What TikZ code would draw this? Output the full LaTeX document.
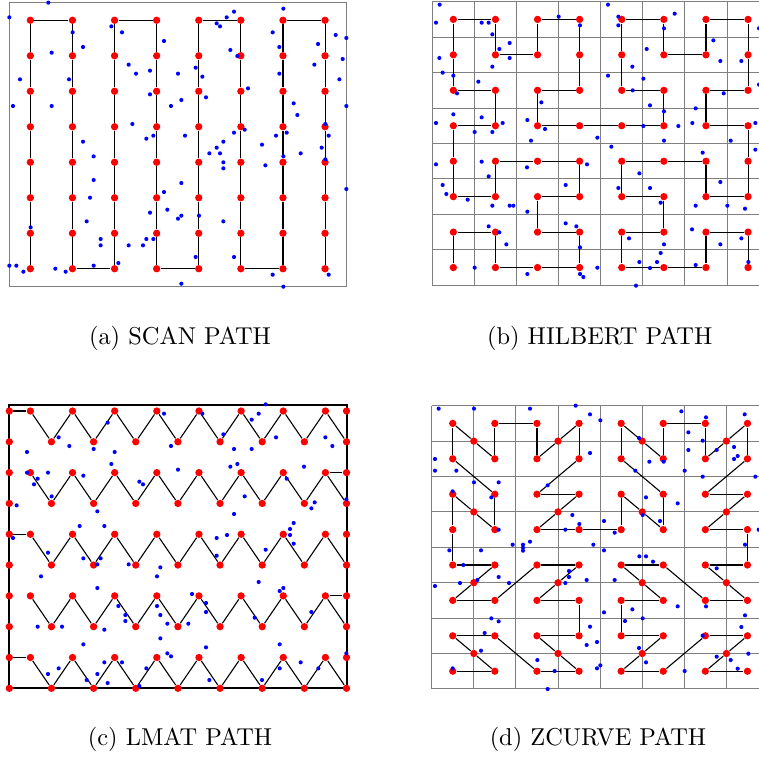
\documentclass[tikz,border=0pt]{standalone}
\usepackage{tikz}
\usetikzlibrary{positioning}

\begin{document}
\begin{tikzpicture}[
  x=0.41pt, y=-0.41pt,
  site/.style={circle, fill=red, inner sep=0pt, minimum size=3pt},
  link/.style={line width=0.45pt, black},
  cell/.style={line width=0.4pt, black!50},
  frame/.style={line width=0.8pt, black},
  sample/.style={fill=blue},
  zoomed/.style={x=0.136667pt, y=-0.136667pt},
  caption/.style={anchor=base},
]
\useasboundingbox (0,0) rectangle (759,760);

% frames and grids
\draw[cell] (9.3,2.7) rectangle (346.7,286);
\foreach \k in {0,...,8} {
  \draw[cell] ({432.3+42.1*\k},1.7) -- ({432.3+42.1*\k},285.3);
  \draw[cell] (432.3,{1.7+35.45*\k}) -- (769,{1.7+35.45*\k});
  \draw[cell] ({431.7+42.1*\k},405.7) -- ({431.7+42.1*\k},688.9);
  \draw[cell] (431.7,{405.7+35.4*\k}) -- (769,{405.7+35.4*\k});
}
\draw[frame] (9.3,405) rectangle (346.7,688.3);

% sites
\foreach \c in {0,...,7}
  \foreach \r in {0,...,7} {
    \node[site] (s-\c-\r) at ({30.35+42.1*\c},{20.25+35.5*\r}) {};
    \node[site] (h-\c-\r) at ({453.35+42.1*\c},{19.4+35.45*\r}) {};
    \node[site] (z-\c-\r) at ({452.75+42.1*\c},{423.4+35.4*\r}) {};
  }
\foreach \i in {0,...,3}
  \foreach \j in {0,...,3}
    \node[site] (zm-\i-\j) at ({473.8+84.2*\i},{441.1+70.8*\j}) {};
\foreach \r in {0,...,9}
  \foreach \k in {0,...,16} {
    \pgfmathtruncatemacro\keep{(mod(\k+\r,2)==1) || (\k==0) || (\k==16)}
    \ifnum\keep=1
      \node[site] (l-\k-\r) at ({9.3+21.075*\k},{411+30.81*\r}) {};
    \fi
  }

% scan path
\foreach \c in {0,...,7}
  \foreach \r [remember=\r as \rr (initially 0)] in {1,...,7}
    \draw[link] (s-\c-\rr) -- (s-\c-\r);
\foreach \a/\b in {0/1,2/3,4/5,6/7} \draw[link] (s-\a-0) -- (s-\b-0);
\foreach \a/\b in {1/2,3/4,5/6} \draw[link] (s-\a-7) -- (s-\b-7);

% hilbert path
\foreach \p [remember=\p as \pp (initially 0-7)] in {0-6,1-6,1-7,2-7,3-7,3-6,2-6,
  2-5,3-5,3-4,2-4,1-4,1-5,0-5,0-4,0-3,1-3,1-2,0-2,0-1,0-0,1-0,1-1,
  2-1,2-0,3-0,3-1,3-2,2-2,2-3,3-3,4-3,5-3,5-2,4-2,4-1,4-0,5-0,5-1,
  6-1,6-0,7-0,7-1,7-2,6-2,6-3,7-3,7-4,7-5,6-5,6-4,5-4,4-4,4-5,5-5,
  5-6,4-6,4-7,5-7,6-7,6-6,7-6,7-7}
  \draw[link] (h-\pp) -- (h-\p);

% lmat path
\foreach \p in {0,2,4,6,8}
  \foreach \k in {1,...,15} {
    \pgfmathtruncatemacro\ra{\p+mod(\k+1,2)}
    \pgfmathtruncatemacro\kb{\k+1}
    \pgfmathtruncatemacro\rb{\p+mod(\k,2)}
    \draw[link] (l-\k-\ra) -- (l-\kb-\rb);
  }
\foreach \p in {0,4,8} \draw[link] (l-0-\p) -- (l-1-\p);
\foreach \p in {2,6} \draw[link] (l-16-\p) -- (l-15-\p);
\foreach \a/\b in {1/2,5/6} \draw[link] (l-16-\a) -- (l-16-\b);
\foreach \a/\b in {3/4,7/8} \draw[link] (l-0-\a) -- (l-0-\b);

% zcurve path
\foreach \p [remember=\p as \pp (initially z-0-7)] in {z-1-7,zm-0-3,z-0-6,z-1-6,z-2-7,z-3-7,zm-1-3,z-2-6,z-3-6,
  z-3-5,z-2-5,zm-1-2,z-3-4,z-2-4,z-1-5,z-0-5,zm-0-2,z-1-4,z-0-4,
  z-0-3,z-0-2,zm-0-1,z-1-3,z-1-2,z-0-1,z-0-0,zm-0-0,z-1-1,z-1-0,
  z-2-0,z-2-1,zm-1-0,z-3-0,z-3-1,z-2-2,z-3-2,zm-1-1,z-2-3,z-3-3,
  z-4-3,z-4-2,zm-2-1,z-5-3,z-5-2,z-4-1,z-4-0,zm-2-0,z-5-1,z-5-0,
  z-6-0,z-6-1,zm-3-0,z-7-0,z-7-1,z-6-2,z-7-2,zm-3-1,z-6-3,z-7-3,
  z-7-4,z-6-4,zm-3-2,z-7-5,z-6-5,z-5-4,z-4-4,zm-2-2,z-5-5,z-4-5,
  z-4-6,z-5-6,zm-2-3,z-4-7,z-5-7,z-6-6,z-7-6,zm-3-3,z-6-7,z-7-7}
  \draw[link] (\pp) -- (\p);

% samples
\begin{scope}[zoomed]
\foreach \u/\v in {145/8,28/52,218/97,334/79,366/97,680/52,702/35,650/70,660/79,850/26,
  818/97,1007/105,1039/114,954/132,838/141,1028/177,943/194,1018/238,838/221,249/141,
  155/158,492/123,691/150,712/168,386/194,408/221,450/212,534/221,587/203,607/230,
  60/238,207/238,744/265,450/283,544/300,618/292,513/318,39/318,155/318,881/310,
  892/345,1039/318,397/372,439/416,460/407,555/407,702/398,734/389,828/407,860/398,
  976/372,986/407,249/425,670/425,650/443,628/460,660/460,786/434,902/460,965/443,
  850/469,976/478,281/469,670/487,670/505,796/496,544/549,281/540,492/576,270/593,
  1039/567,502/629,450/638,534/656,544/647,597/647,260/664,670/664,92/682,302/717,
  302/736,386/736,429/736,439/717,460/717,355/789,281/797,587/771,702/771,28/797,
  49/797,70/815,166/806,197/815,544/851,818/824,986/824,850/860}
  \fill[sample] (\u,\v) circle[radius=0.85pt];
\end{scope}
\begin{scope}[shift={(420,0)}, zoomed]
\foreach \u/\v in {59/14,48/68,185/68,206/68,217/103,416/50,480/76,564/14,595/50,595/76,
  764/41,732/85,1017/85,269/129,238/147,269/174,58/174,217/200,68/218,100/227,
  175/245,111/280,680/147,637/200,564/227,670/236,638/271,880/121,901/183,964/183,
  1017/254,911/280,364/307,690/316,827/325,732/334,100/343,185/352,48/369,248/369,
  217/396,164/396,322/360,375/387,333/422,532/413,574/440,670/378,775/378,817/369,
  1006/369,932/422,732/422,848/458,1006/449,48/493,185/485,206/529,321/502,501/493,
  658/520,68/555,79/582,143/599,217/617,269/617,280/617,322/635,437/555,595/564,
  690/564,722/608,901/546,827/617,922/617,975/626,206/679,238/697,259/733,437/670,
  469/679,480/742,627/715,732/733,722/759,711/786,658/786,690/804,816/688,901/733,
  964/715,985/786,827/795,164/803,322/822,480/822,490/831,532/803,648/857}
  \fill[sample] (\u,\v) circle[radius=0.85pt];
\end{scope}
\begin{scope}[shift={(0,395)}, zoomed]
\foreach \u/\v in {797/28,492/56,607/56,776/56,755/74,323/83,670/118,176/127,828/127,976/127,
  208/153,513/153,997/153,81/171,281/162,344/171,702/162,755/162,334/207,534/224,
  691/215,712/207,912/215,81/233,144/233,250/242,113/251,102/268,418/260,429/268,
  860/251,155/304,50/331,734/304,944/322,934/340,1039/313,292/349,702/357,881/384,
  870/402,870/420,881/446,239/393,313/393,39/429,650/429,681/420,144/473,250/490,
  292/508,302/490,386/508,481/517,650/482,797/464,123/544,471/544,292/579,776/561,
  839/588,850/579,576/597,618/624,618/651,355/633,376/660,376/678,471/633,481/660,
  502/686,565/686,764/668,934/651,113/695,186/695,313/704,481/730,250/748,618/757,
  839/748,502/775,513/784,1039/775,313/802,366/802,176/820,144/837,292/837,439/820,
  839/820,902/802,955/820,260/855,323/864,628/855,786/855,418/873}
  \fill[sample] (\u,\v) circle[radius=0.85pt];
\end{scope}
\begin{scope}[shift={(420,395)}, zoomed]
\foreach \u/\v in {56/41,162/41,330/41,467/32,510/58,541/76,784/49,858/67,974/58,805/112,
  848/137,657/129,805/165,890/165,942/156,953/183,942/192,510/174,688/200,731/200,
  45/192,45/227,109/227,646/227,794/227,848/245,1006/245,162/262,236/262,98/289,
  214/307,383/271,678/307,773/325,668/360,720/378,457/360,478/387,552/378,436/404,
  584/413,236/404,1016/404,330/440,309/449,309/458,309/467,278/449,520/449,552/466,
  88/466,183/466,975/449,658/484,678/484,699/500,890/520,130/510,447/528,447/546,
  436/564,236/546,267/564,172/555,120/564,45/573,500/555,584/555,773/634,637/643,
  858/634,668/670,615/678,552/652,214/670,236/679,975/661,510/695,964/696,194/714,
  848/722,531/741,500/750,657/759,183/767,352/795,678/802,890/785,932/795,985/776,
  98/820,404/828,531/820,541/811,794/828,953/821,383/882}
  \fill[sample] (\u,\v) circle[radius=0.85pt];
\end{scope}

% captions
\node[caption] (capA) at (180,344) {(a) SCAN PATH};
\node[caption] (capB) at (599.7,344) {(b) HILBERT PATH};
\node[caption] (capC) at (180,745) {(c) LMAT PATH};
\node[caption] (capD) at (598,745) {(d) ZCURVE PATH};
\end{tikzpicture}
\end{document}
